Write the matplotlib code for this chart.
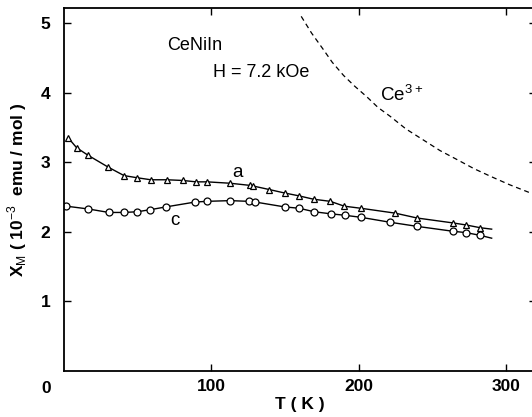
"""
Magnetic susceptibility of CeNiIn along a and c, with the Ce3+ free-ion curve.
"""

import matplotlib

matplotlib.use("Agg")
import matplotlib.pyplot as plt

plt.rcParams["font.family"] = ["Liberation Sans", "DejaVu Sans"]
plt.rcParams["mathtext.fontset"] = "custom"
plt.rcParams["mathtext.rm"] = "Liberation Sans"

# a-axis data (triangles)
temp_a = [3.3, 8.9, 16.8, 30.4, 41, 49.6, 59.1, 70, 80.8, 89.8, 97.3, 112.9,
          126, 128.5, 139.3, 149.7, 159.2, 169.4, 180.7, 190.2, 201.5, 224.7,
          239.5, 263.6, 272.7, 282.4]
chi_a = [3.35, 3.21, 3.10, 2.93, 2.81, 2.78, 2.75, 2.75, 2.74, 2.72, 2.72, 2.70,
         2.67, 2.66, 2.61, 2.56, 2.52, 2.47, 2.44, 2.37, 2.34, 2.27,
         2.20, 2.13, 2.10, 2.06]

# c-axis data (circles)
temp_c = [2, 16.8, 30.7, 40.8, 50, 58.8, 69.4, 89.2, 97.3, 112.9, 125.3, 129.8,
          149.7, 159.7, 169.8, 181.2, 190.4, 201.5, 220.9, 239.5, 263.6, 272.7,
          282.4]
chi_c = [2.37, 2.33, 2.28, 2.28, 2.29, 2.32, 2.36, 2.43, 2.44, 2.45, 2.44, 2.43,
         2.36, 2.34, 2.29, 2.26, 2.24, 2.21, 2.14, 2.08, 2.01, 1.99,
         1.95]

# where the drawn curves stop
fit_end_temp = 290
fit_end_a = 2.04
fit_end_c = 1.91

# Ce3+ free-ion curve
temp_ce = [161, 168, 176.1, 182, 189.7, 197, 205.6, 213, 221.4, 232, 243.9,
           255, 266.6, 278, 289.2, 302, 316.3, 330]
chi_ce = [5.10, 4.86, 4.62, 4.44, 4.25, 4.10, 3.94, 3.79, 3.66, 3.48, 3.32,
          3.17, 3.04, 2.91, 2.80, 2.68, 2.56, 2.45]

x_ticks = [100, 200, 300]
y_ticks = [1, 2, 3, 4, 5]

fig = plt.figure(figsize=(5.32, 4.17), dpi=100)
ax = fig.add_axes([0.1194, 0.1103, 0.888, 0.8705])

ax.plot(temp_a + [fit_end_temp], chi_a + [fit_end_a], color="black", lw=1.0)
ax.plot(temp_a, chi_a, linestyle="none", marker="^", markersize=5,
        markerfacecolor="white", markeredgecolor="black", markeredgewidth=0.9)

ax.plot(temp_c + [fit_end_temp], chi_c + [fit_end_c], color="black", lw=1.0)
ax.plot(temp_c, chi_c, linestyle="none", marker="o", markersize=5,
        markerfacecolor="white", markeredgecolor="black", markeredgewidth=0.9)

ax.plot(temp_ce, chi_ce, color="black", lw=0.9, linestyle=(0, (4, 3)))

ax.set_xlim(0, 320)
ax.set_ylim(0, 5.22)
ax.set_xticks(x_ticks)
ax.set_yticks(y_ticks)
ax.tick_params(direction="in", length=5, width=1.0, top=True, right=True,
               labelsize=12.5)
ax.tick_params(axis="y", pad=9.5)
ax.tick_params(axis="x", pad=6)
for label in ax.get_xticklabels() + ax.get_yticklabels():
    label.set_fontweight("bold")
for spine in ax.spines.values():
    spine.set_linewidth(1.3)

ax.annotate("0", xy=(0, 0), xycoords="axes fraction", xytext=(-17, -17),
            textcoords="offset pixels", ha="center", va="center",
            fontsize=12.5, fontweight="bold")

ax.text(70, 4.68, "CeNiIn", fontsize=13, ha="left", va="center")
ax.text(101.4, 4.29, "H = 7.2 kOe", fontsize=13, ha="left", va="center")
ax.text(214.6, 3.98, "Ce$^{3+}$", fontsize=13.5, ha="left", va="center")
ax.text(117.6, 2.85, "a", fontsize=13.5, ha="center", va="center")
ax.text(75.7, 2.17, "c", fontsize=13.5, ha="center", va="center")

ax.set_xlabel("T ( K )", fontsize=12.5, fontweight="bold", labelpad=2)
ax.set_ylabel("X$_\\mathrm{M}$ ( 10$^{-3}$  emu / mol )", fontsize=12.5,
              fontweight="bold", labelpad=8)

fig.savefig("out.png", dpi=100)
